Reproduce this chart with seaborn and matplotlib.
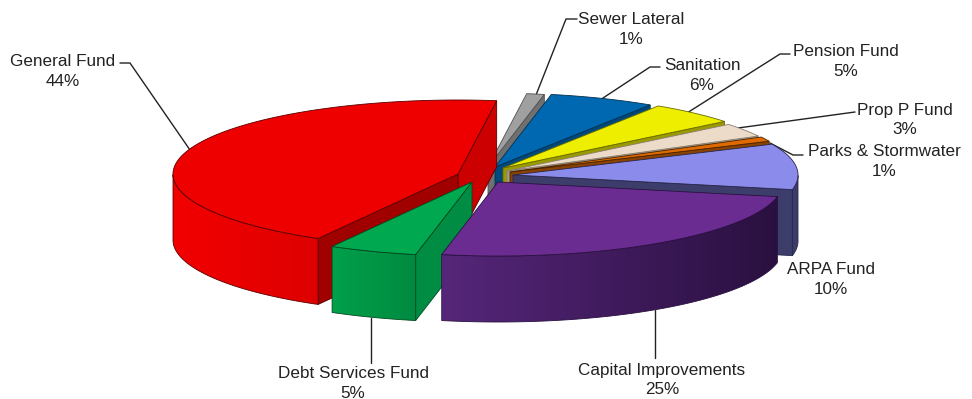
import numpy as np
import matplotlib
matplotlib.use("Agg")
import matplotlib.pyplot as plt
from matplotlib.patches import Polygon
import seaborn as sns

# Budget share by fund, counter-clockwise from the start angle
funds = ["General Fund", "Debt Services Fund", "Capital Improvements", "ARPA Fund",
         "Parks & Stormwater", "Prop P Fund", "Pension Fund", "Sanitation", "Sewer Lateral"]
shares = [44, 5, 25, 10, 1, 3, 5, 6, 1]

# Styling per fund: top face, rim gradient (left to right), start wall, end wall
top_colors = ["#EE0000", "#00A94F", "#6A2C91", "#8B8BEB", "#E06A00", "#EBDBC8", "#EEEE00", "#0068B0", "#A0A0A0"]
rim_left = ["#F20000", "#00A04B", "#56267A", "#3D3D6B", "#8A4200", "#A89C8E", "#9A9A00", "#00497C", "#707070"]
rim_right = ["#DE0000", "#008A40", "#2A1040", "#3D3D6B", "#8A4200", "#A89C8E", "#9A9A00", "#00497C", "#707070"]
wall_start = ["#CC0000", "#008A40", "#56267A", "#3D3D6B", "#8A4200", "#A89C8E", "#9A9A00", "#00497C", "#707070"]
wall_end = ["#A00000", "#008C42", "#56267A", "#3D3D6B", "#8A4200", "#A89C8E", "#9A9A00", "#00497C", "#707070"]
edge_colors = ["#5A0000", "#004A22", "#2A1040", "#26264A", "#4A2400", "#8A7E70", "#6A6A00", "#00304F", "#505050"]

# Offset of each slice from the pie centre, in pixels (x, y down)
shift_x = [-39, -25, 1, 16, 13, 10, 6, -2, -9]
shift_y = [2, 10, 10, 3, 0, -1, -4, -5, -5]

# Back-to-front painting sequence, as indices into funds
paint_order = [8, 7, 6, 5, 4, 3, 0, 1, 2]

# Outer labels and their anchor positions
label_pos = {
    "General Fund": (63, 61), "Debt Services Fund": (353, 373), "Capital Improvements": (662, 370),
    "ARPA Fund": (831, 270), "Parks & Stormwater": (884, 151), "Prop P Fund": (905, 110),
    "Pension Fund": (846, 52), "Sanitation": (702, 65), "Sewer Lateral": (631, 20),
}
leaders = {
    "General Fund": ([120, 130, 190], [63, 63, 150]),
    "Debt Services Fund": ([371, 371], [318, 363]),
    "Capital Improvements": ([655, 655], [310, 358]),
    "Parks & Stormwater": ([803, 793, 770], [155, 155, 143]),
    "Prop P Fund": ([855, 738], [112, 128]),
    "Pension Fund": ([790, 780, 687], [54, 54, 113]),
    "Sanitation": ([660, 650, 600], [67, 67, 100]),
    "Sewer Lateral": ([577, 566, 536], [19, 19, 95]),
}

START_ANGLE = 82.2
CENTER = (497.0, 172.0)
RX, RY = 285.0, 74.0
DEPTH = 66.0

sns.set_theme(style="white")
plt.rcParams["font.family"] = ["Liberation Sans", "DejaVu Sans"]

fig = plt.figure(figsize=(9.72, 3.99), dpi=100, facecolor="white")
ax = fig.add_axes([0, 0, 1, 1])


def rim_point(cx, cy, theta):
    return cx + RX * np.cos(theta), cy - RY * np.sin(theta)


def radial_wall(cx, cy, theta, face, edge, z):
    x, y = rim_point(cx, cy, theta)
    ax.add_patch(Polygon([(cx, cy), (x, y), (x, y + DEPTH), (cx, cy + DEPTH)],
                         fc=face, ec=edge, lw=0.6, zorder=z))


def draw_slice(i, a0, a1, z):
    cx, cy = CENTER[0] + shift_x[i], CENTER[1] + shift_y[i]
    edge = edge_colors[i]
    t0, t1 = np.radians(a0), np.radians(a1)
    thetas = np.linspace(t0, t1, max(int(a1 - a0) * 2, 4) + 1)

    # Radial walls, only when they face the viewer
    if np.cos(t0) > 0:
        radial_wall(cx, cy, t0, wall_start[i], edge, z)
    if np.cos(t1) < 0:
        radial_wall(cx, cy, t1, wall_end[i], edge, z)

    # Outer rim: a horizontal colour ramp clipped to the visible part of the arc
    front = thetas[np.sin(thetas) < 0]
    if front.size > 1:
        xs, ys = rim_point(cx, cy, front)
        outline = list(zip(xs, ys)) + list(zip(xs[::-1], ys[::-1] + DEPTH))
        rim = Polygon(outline, fc="none", ec=edge, lw=0.6, zorder=z + 0.2)
        ax.add_patch(rim)
        cmap = sns.blend_palette([rim_left[i], rim_right[i]], 64, as_cmap=True)
        ramp = np.linspace(0, 1, 256)[None, :]
        image = ax.imshow(ramp, cmap=cmap, aspect="auto", zorder=z + 0.1,
                          extent=(xs.min(), xs.max(), ys.max() + DEPTH, ys.min()))
        image.set_clip_path(rim)

    # Top face
    xs, ys = rim_point(cx, cy, thetas)
    ax.add_patch(Polygon([(cx, cy)] + list(zip(xs, ys)), fc=top_colors[i], ec=edge, lw=0.6,
                         zorder=z + 0.3))


# Slice angles follow directly from the shares
spans = np.array(shares) * 3.6
starts = START_ANGLE + np.concatenate([[0], np.cumsum(spans)[:-1]])
for layer, i in enumerate(paint_order):
    draw_slice(i, starts[i], starts[i] + spans[i], 3 + layer)

for xs, ys in leaders.values():
    ax.plot(xs, ys, color="#222222", lw=1.0, zorder=1)

for name, share in zip(funds, shares):
    x, y = label_pos[name]
    ax.text(x, y, name, ha="center", va="center", fontsize=12.3, color="#222222")
    ax.text(x, y + 20, f"{share}%", ha="center", va="center", fontsize=12.3, color="#222222")

ax.set_xlim(0, 972)
ax.set_ylim(399, 0)
ax.axis("off")

fig.savefig("out.png", dpi=100, facecolor="white")
